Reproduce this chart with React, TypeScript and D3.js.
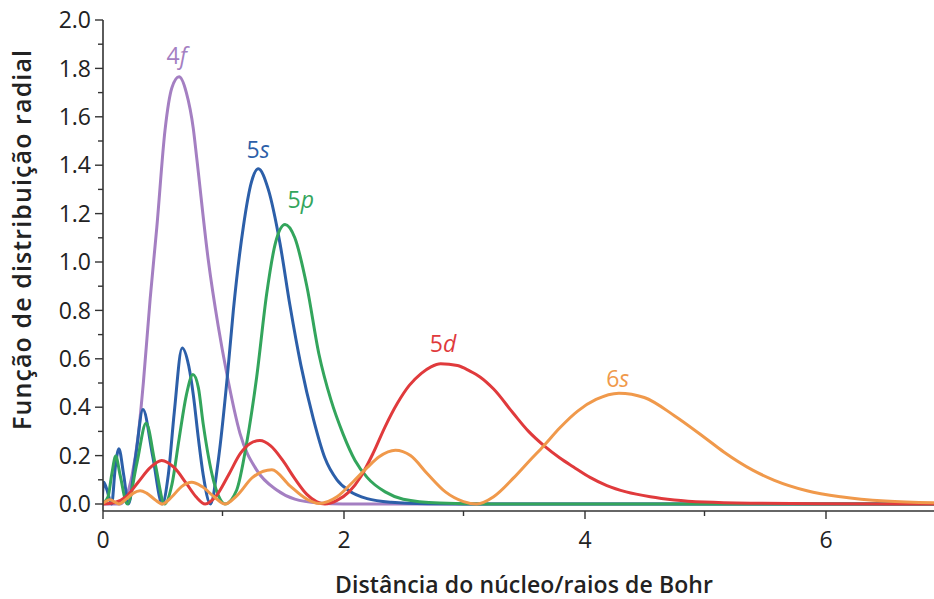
import React from "react";
import * as d3 from "d3";

// ---- data ----
const xTicks = [0, 2, 4, 6];
const xMinorTicks = [1, 3, 5];
const yTicks = [0, 0.2, 0.4, 0.6, 0.8, 1.0, 1.2, 1.4, 1.6, 1.8, 2.0];
const yMinorTicks = [0.1, 0.3, 0.5, 0.7, 0.9, 1.1, 1.3, 1.5, 1.7, 1.9];

const x4f = [0, 0.15, 0.2, 0.25, 0.3, 0.343, 0.4, 0.455, 0.523, 0.58, 0.64, 0.7, 0.758, 0.786, 0.882, 0.965, 1.035, 1.145, 1.284, 1.45, 1.6, 1.8, 2.0, 7];
const y4f = [0, 0, 0.03, 0.12, 0.28, 0.5, 0.85, 1.144, 1.545, 1.72, 1.765, 1.7, 1.55, 1.43, 1.008, 0.733, 0.54, 0.292, 0.14, 0.058, 0.02, 0.004, 0, 0];

const x5s = [0, 0.015, 0.04, 0.08, 0.11, 0.14, 0.18, 0.22, 0.28, 0.34, 0.42, 0.5, 0.55, 0.6, 0.665, 0.72, 0.758, 0.8, 0.84, 0.9, 0.965, 1.04, 1.09, 1.173, 1.24, 1.297, 1.38, 1.477, 1.56, 1.65, 1.755, 1.85, 1.95, 2.05, 2.2, 2.4, 2.7, 3.0, 7];
const y5s = [0, 0.09, 0.06, 0, 0.15, 0.228, 0.12, 0, 0.2, 0.39, 0.2, 0, 0.12, 0.38, 0.645, 0.57, 0.45, 0.27, 0.12, 0, 0.18, 0.526, 0.8, 1.146, 1.33, 1.385, 1.3, 1.077, 0.82, 0.575, 0.35, 0.19, 0.1, 0.055, 0.022, 0.007, 0.001, 0, 0];

const x5p = [0, 0.05, 0.08, 0.114, 0.15, 0.21, 0.29, 0.366, 0.44, 0.52, 0.58, 0.64, 0.7, 0.755, 0.8, 0.84, 0.924, 0.97, 1.02, 1.118, 1.2, 1.284, 1.367, 1.44, 1.519, 1.6, 1.7, 1.8, 1.9, 2.0, 2.1, 2.2, 2.35, 2.5, 2.8, 3.2, 7];
const y5p = [0, 0.03, 0.12, 0.198, 0.12, 0, 0.17, 0.334, 0.17, 0, 0.08, 0.27, 0.45, 0.535, 0.48, 0.33, 0.1, 0.03, 0, 0.058, 0.25, 0.526, 0.87, 1.08, 1.155, 1.1, 0.9, 0.62, 0.43, 0.29, 0.18, 0.11, 0.05, 0.02, 0.004, 0, 0];

const x5d = [0, 0.1, 0.2, 0.3, 0.4, 0.495, 0.6, 0.7, 0.78, 0.856, 0.95, 1.05, 1.15, 1.23, 1.31, 1.4, 1.5, 1.6, 1.7, 1.78, 1.85, 1.95, 2.05, 2.15, 2.25, 2.35, 2.45, 2.55, 2.65, 2.73, 2.81, 2.95, 3.05, 3.137, 3.25, 3.413, 3.54, 3.67, 3.8, 3.91, 4.05, 4.19, 4.35, 4.55, 4.75, 5.0, 5.4, 6.0, 7];
const y5d = [0, 0.005, 0.03, 0.09, 0.15, 0.18, 0.15, 0.085, 0.03, 0, 0.035, 0.12, 0.21, 0.25, 0.262, 0.24, 0.18, 0.105, 0.04, 0.01, 0, 0.015, 0.05, 0.115, 0.21, 0.32, 0.415, 0.49, 0.54, 0.567, 0.58, 0.572, 0.55, 0.525, 0.475, 0.375, 0.3, 0.24, 0.19, 0.154, 0.11, 0.076, 0.05, 0.03, 0.017, 0.008, 0.003, 0.001, 0];

const x6s = [0, 0.035, 0.066, 0.1, 0.14, 0.2, 0.26, 0.316, 0.37, 0.44, 0.5, 0.58, 0.66, 0.745, 0.83, 0.93, 1.02, 1.12, 1.25, 1.41, 1.56, 1.7, 1.8, 1.95, 2.08, 2.2, 2.3, 2.435, 2.56, 2.7, 2.85, 3.0, 3.11, 3.25, 3.42, 3.55, 3.665, 3.8, 3.95, 4.1, 4.29, 4.5, 4.75, 5.0, 5.16, 5.4, 5.58, 5.85, 6.13, 6.5, 7];
const y6s = [0, 0.012, 0.018, 0.01, 0, 0.02, 0.045, 0.055, 0.045, 0.018, 0, 0.03, 0.072, 0.09, 0.072, 0.03, 0, 0.035, 0.11, 0.142, 0.075, 0.02, 0.002, 0.03, 0.09, 0.15, 0.195, 0.222, 0.2, 0.125, 0.05, 0.01, 0, 0.03, 0.11, 0.18, 0.24, 0.315, 0.385, 0.432, 0.458, 0.44, 0.365, 0.275, 0.215, 0.14, 0.098, 0.055, 0.03, 0.012, 0.004];

const seriesNames = ["4f", "5s", "5p", "5d", "6s"];
const seriesX = [x4f, x5s, x5p, x5d, x6s];
const seriesY = [y4f, y5s, y5p, y5d, y6s];
const seriesColors = ["#a47fc2", "#2c5fa9", "#33a55c", "#e03a3c", "#f0994b"];
// label anchor positions in data units
const labelX = [0.62, 1.295, 1.65, 2.83, 4.28];
const labelY = [1.82, 1.43, 1.225, 0.628, 0.483];

export default function App() {
  const width = 934;
  const height = 599;
  const x = d3.scaleLinear().domain([0, 7]).range([102, 102 + 7 * 120.5]);
  const y = d3.scaleLinear().domain([0, 2]).range([504, 20]);
  const axisY = 511;
  const axisX = 103;
  const line = d3
    .line<[number, number]>()
    .x((d) => x(d[0]))
    .y((d) => y(d[1]))
    .curve(d3.curveMonotoneX);

  const font = "'Open Sans', 'Liberation Sans', sans-serif";
  const axisColor = "#333";
  const order = [0, 1, 2, 3, 4];

  return (
    <svg
      width={width}
      height={height}
      style={{ position: "absolute", left: 0, top: 0, background: "#fff" }}
      fontFamily={font}
    >
      <defs>
        <clipPath id="plot">
          <rect x={axisX} y={0} width={width - axisX} height={axisY - 2} />
        </clipPath>
      </defs>
      {/* curves */}
      <g clipPath="url(#plot)">
        {order.map((i) => {
          const pts = seriesX[i].map((v, k) => [v, seriesY[i][k]] as [number, number]);
          return (
            <path
              key={seriesNames[i]}
              d={line(pts) || ""}
              fill="none"
              stroke={seriesColors[i]}
              strokeWidth={3}
              strokeLinejoin="round"
            />
          );
        })}
      </g>
      {/* axes */}
      <line x1={axisX} x2={axisX} y1={y(2)} y2={axisY} stroke={axisColor} strokeWidth={1.6} />
      <line x1={axisX} x2={width} y1={axisY} y2={axisY} stroke={axisColor} strokeWidth={1.6} />
      {yTicks.map((t) => (
        <g key={"yt" + t}>
          <line x1={axisX - 8} x2={axisX} y1={y(t)} y2={y(t)} stroke={axisColor} strokeWidth={1.4} />
          <text x={axisX - 12} y={y(t)} dy="0.36em" textAnchor="end" fontSize={23} fill="#222">
            {t.toFixed(1)}
          </text>
        </g>
      ))}
      {yMinorTicks.map((t) => (
        <line key={"ym" + t} x1={axisX - 5} x2={axisX} y1={y(t)} y2={y(t)} stroke={axisColor} strokeWidth={1.4} />
      ))}
      {xTicks.map((t) => (
        <g key={"xt" + t}>
          <line x1={x(t) + 1} x2={x(t) + 1} y1={axisY} y2={axisY + 8} stroke={axisColor} strokeWidth={1.4} />
          <text x={x(t) + 1} y={axisY + 37} textAnchor="middle" fontSize={23} fill="#222">
            {t}
          </text>
        </g>
      ))}
      {xMinorTicks.map((t) => (
        <line key={"xm" + t} x1={x(t)} x2={x(t)} y1={axisY} y2={axisY + 5} stroke={axisColor} strokeWidth={1.4} />
      ))}
      {/* axis titles */}
      <text
        x={524}
        y={593}
        textAnchor="middle"
        fontSize={23}
        fontWeight={600}
        fill="#222"
        textLength={378}
        lengthAdjust="spacing"
      >
        Distância do núcleo/raios de Bohr
      </text>
      <text
        transform={`translate(31, 240) rotate(-90)`}
        textAnchor="middle"
        fontSize={25}
        fontWeight={600}
        fill="#222"
        textLength={380}
        lengthAdjust="spacing"
      >
        Função de distribuição radial
      </text>
      {/* series labels */}
      {order.map((i) => (
        <text
          key={"lb" + i}
          x={x(labelX[i])}
          y={y(labelY[i])}
          textAnchor="middle"
          fontSize={23}
          fill={seriesColors[i]}
        >
          {seriesNames[i][0]}
          <tspan fontStyle="italic">{seriesNames[i].slice(1)}</tspan>
        </text>
      ))}
    </svg>
  );
}
